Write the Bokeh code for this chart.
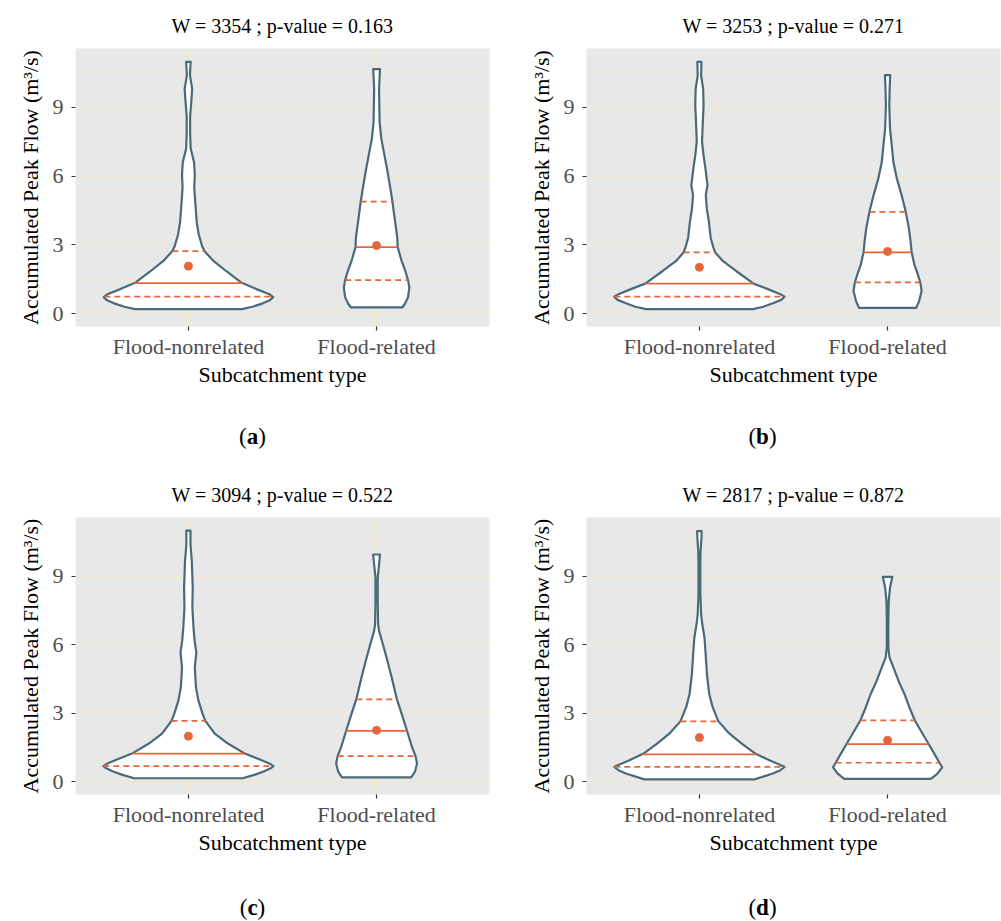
import numpy as np
from bokeh.plotting import figure
from bokeh.layouts import column, row
from bokeh.models import Range1d, FixedTicker, Div
from bokeh.embed import file_html
from bokeh.resources import INLINE

# ---------------- data ----------------
categories = ["Flood-nonrelated", "Flood-related"]
cat_pos = [1, 2]
y_ticks = [0, 3, 6, 9]
y_minor = [1.5, 4.5, 7.5, 10.5]
panel_titles = ["W = 3354 ; p-value = 0.163", "W = 3253 ; p-value = 0.271",
                "W = 3094 ; p-value = 0.522", "W = 2817 ; p-value = 0.872"]
caption_letters = ["a", "b", "c", "d"]

# violin outlines: peak-flow level (m3/s) and half-width (category units)
a_nonrel_y = [0.20, 0.30, 0.45, 0.60, 0.72, 0.85, 1.07, 1.36, 1.86, 2.30, 2.73, 2.94, 3.45, 4.00, 4.90, 5.50, 6.05, 6.60, 7.20, 7.90, 8.60, 9.20, 9.80, 10.40, 10.98]
a_nonrel_w = [0.284, 0.340, 0.395, 0.435, 0.450, 0.430, 0.362, 0.280, 0.200, 0.133, 0.085, 0.073, 0.055, 0.044, 0.036, 0.031, 0.034, 0.030, 0.012, 0.009, 0.009, 0.015, 0.020, 0.008, 0.012]
a_rel_y = [0.27, 0.42, 0.71, 1.14, 1.43, 1.86, 2.30, 2.90, 3.30, 4.03, 4.90, 5.47, 6.20, 6.90, 7.63, 8.35, 9.80, 10.66]
a_rel_w = [0.136, 0.150, 0.167, 0.174, 0.168, 0.153, 0.133, 0.112, 0.110, 0.098, 0.084, 0.073, 0.058, 0.042, 0.025, 0.016, 0.013, 0.018]

b_nonrel_y = [0.20, 0.30, 0.45, 0.60, 0.74, 0.85, 1.07, 1.31, 1.86, 2.30, 2.67, 2.87, 3.30, 4.03, 4.60, 5.18, 5.60, 6.33, 6.90, 7.49, 8.35, 9.08, 9.80, 10.37, 10.98]
b_nonrel_w = [0.284, 0.340, 0.390, 0.435, 0.452, 0.430, 0.364, 0.288, 0.195, 0.124, 0.084, 0.075, 0.060, 0.050, 0.039, 0.034, 0.043, 0.032, 0.022, 0.014, 0.018, 0.022, 0.020, 0.009, 0.011]
b_rel_y = [0.25, 0.56, 1.00, 1.36, 1.72, 2.15, 2.67, 3.16, 3.74, 4.46, 5.18, 5.90, 6.60, 7.35, 8.07, 9.08, 9.80, 10.40]
b_rel_w = [0.152, 0.168, 0.181, 0.174, 0.160, 0.142, 0.128, 0.122, 0.113, 0.096, 0.074, 0.049, 0.031, 0.022, 0.013, 0.009, 0.011, 0.014]

c_nonrel_y = [0.15, 0.30, 0.45, 0.60, 0.68, 0.80, 1.00, 1.23, 1.67, 2.10, 2.66, 2.98, 3.56, 4.14, 5.00, 5.66, 6.17, 6.75, 7.62, 8.49, 9.65, 10.38, 10.99]
c_nonrel_w = [0.288, 0.350, 0.400, 0.440, 0.452, 0.430, 0.370, 0.300, 0.210, 0.140, 0.090, 0.075, 0.053, 0.040, 0.034, 0.042, 0.033, 0.027, 0.021, 0.023, 0.018, 0.011, 0.011]
c_rel_y = [0.19, 0.44, 0.80, 1.12, 1.52, 2.22, 2.98, 3.60, 4.57, 5.30, 6.00, 6.60, 6.90, 7.76, 8.93, 9.50, 9.94]
c_rel_w = [0.184, 0.204, 0.215, 0.207, 0.188, 0.162, 0.133, 0.108, 0.080, 0.057, 0.034, 0.013, 0.008, 0.006, 0.006, 0.013, 0.018]

d_nonrel_y = [0.10, 0.36, 0.50, 0.65, 0.94, 1.23, 1.67, 2.10, 2.65, 3.27, 3.85, 4.70, 5.60, 6.30, 6.90, 7.33, 8.20, 9.65, 10.09, 10.67, 10.96]
d_nonrel_w = [0.293, 0.390, 0.430, 0.452, 0.372, 0.297, 0.225, 0.160, 0.100, 0.070, 0.052, 0.040, 0.033, 0.027, 0.015, 0.009, 0.005, 0.005, 0.006, 0.011, 0.012]
d_rel_y = [0.12, 0.35, 0.63, 0.84, 1.23, 1.64, 2.10, 2.68, 3.27, 3.85, 4.43, 5.00, 5.44, 5.88, 7.04, 7.90, 8.50, 8.96]
d_rel_w = [0.230, 0.265, 0.290, 0.275, 0.248, 0.219, 0.186, 0.145, 0.115, 0.089, 0.057, 0.031, 0.010, 0.004, 0.004, 0.006, 0.013, 0.025]

# summary statistics per panel (a, b, c, d)
q1_nonrel = [0.74, 0.74, 0.68, 0.65]
median_nonrel = [1.33, 1.31, 1.23, 1.20]
q3_nonrel = [2.73, 2.67, 2.66, 2.64]
mean_nonrel = [2.07, 2.02, 1.99, 1.93]
q1_rel = [1.46, 1.36, 1.12, 0.83]
median_rel = [2.90, 2.67, 2.22, 1.64]
q3_rel = [4.88, 4.44, 3.60, 2.68]
mean_rel = [2.97, 2.71, 2.25, 1.81]

violins = [
    ((a_nonrel_y, a_nonrel_w), (a_rel_y, a_rel_w)),
    ((b_nonrel_y, b_nonrel_w), (b_rel_y, b_rel_w)),
    ((c_nonrel_y, c_nonrel_w), (c_rel_y, c_rel_w)),
    ((d_nonrel_y, d_nonrel_w), (d_rel_y, d_rel_w)),
]

# ---------------- style ----------------
FONT = "Liberation Serif"
OUTLINE = "#4B6A79"
ORANGE = "#E4673A"
PANEL_BG = "#E8E8E8"
GRID_MAJOR = "#F3E6C4"
GRID_MINOR = "#F0E8D6"


def make_panel(i, width, height, bl, br, bt, bb):
    p = figure(width=width, height=height,
               x_range=Range1d(0.4, 2.6), y_range=Range1d(-0.56, 11.56),
               output_backend="svg", toolbar_location=None,
               min_border_left=bl, min_border_right=br,
               min_border_top=bt, min_border_bottom=bb)
    p.background_fill_color = PANEL_BG
    p.border_fill_color = "white"
    p.outline_line_color = None

    p.title.text = panel_titles[i]
    p.title.align = "center"
    p.title.text_font = FONT
    p.title.text_font_size = "20px"
    p.title.text_font_style = "normal"
    p.title.text_color = "black"
    p.title.standoff = 24

    # grids
    p.xgrid.ticker = FixedTicker(ticks=cat_pos)
    p.xgrid.grid_line_color = GRID_MAJOR
    p.xgrid.grid_line_width = 1
    p.ygrid.grid_line_color = GRID_MAJOR
    p.ygrid.grid_line_width = 1
    p.ygrid.minor_grid_line_color = GRID_MINOR
    p.ygrid.minor_grid_line_width = 0.7

    # axes
    p.xaxis.ticker = FixedTicker(ticks=cat_pos)
    p.xaxis.major_label_overrides = {cat_pos[k]: categories[k] for k in range(2)}
    p.yaxis.ticker = FixedTicker(ticks=y_ticks, minor_ticks=y_minor)
    p.xaxis.axis_label = "Subcatchment type"
    p.yaxis.axis_label = "Accumulated Peak Flow (m³/s)"
    for ax in (p.xaxis[0], p.yaxis[0]):
        ax.axis_line_color = None
        ax.major_tick_line_color = "#333333"
        ax.major_tick_line_width = 1.2
        ax.major_tick_out = 4
        ax.major_tick_in = 0
        ax.minor_tick_out = 0
        ax.minor_tick_in = 0
        ax.major_label_text_font = FONT
        ax.major_label_text_font_size = "22px"
        ax.major_label_text_color = "#4D4D4D"
        ax.axis_label_text_font = FONT
        ax.axis_label_text_font_size = "22px"
        ax.axis_label_text_font_style = "normal"
        ax.axis_label_text_color = "black"
    p.xaxis.major_label_standoff = 3
    p.xaxis.axis_label_standoff = 0
    p.yaxis.major_label_standoff = 8
    p.yaxis.axis_label_standoff = 7

    # violins
    stats = [
        (q1_nonrel[i], median_nonrel[i], q3_nonrel[i], mean_nonrel[i]),
        (q1_rel[i], median_rel[i], q3_rel[i], mean_rel[i]),
    ]
    for k in range(2):
        c = cat_pos[k]
        ys = np.asarray(violins[i][k][0], dtype=float)
        ws = np.asarray(violins[i][k][1], dtype=float)
        xs = np.concatenate([c + ws, (c - ws)[::-1]])
        yy = np.concatenate([ys, ys[::-1]])
        p.patch(xs, yy, fill_color="white", line_color=OUTLINE, line_width=2.2,
                line_join="round")
        q1, med, q3, mean = stats[k]
        for q, dash in ((q1, "6 4"), (q3, "6 4"), (med, "solid")):
            hw = float(np.interp(q, ys, ws))
            p.segment(x0=[c - hw], x1=[c + hw], y0=[q], y1=[q],
                      line_color=ORANGE, line_width=1.7, line_dash=dash)
        p.scatter(x=[c], y=[mean], size=8, color=ORANGE)
    return p


def make_caption(i, width, height, pad_left, pad_top):
    html = ('<div style="display:block; box-sizing:border-box; '
            f'width:{width}px; '
            'font-family:\'Liberation Serif\',serif; font-size:23px; '
            'line-height:26px; color:black; text-align:center; '
            f'padding-left:{pad_left}px; padding-top:{pad_top}px;">'
            f'(<b>{caption_letters[i]}</b>)</div>')
    return Div(text=html, width=width, height=height, margin=0)


pa = make_panel(0, 500, 400, 75, 11, 48, 74)
pb = make_panel(1, 501, 400, 86, 1, 48, 74)
pc = make_panel(2, 500, 400, 75, 11, 57, 66)
pd = make_panel(3, 501, 400, 86, 1, 57, 66)

ca = make_caption(0, 500, 60, 5, 24)
cb = make_caption(1, 501, 60, 24, 24)
cc = make_caption(2, 500, 61, 5, 35)
cd = make_caption(3, 501, 61, 24, 35)

layout = column(row(pa, pb), row(ca, cb), row(pc, pd), row(cc, cd))
open("out.html", "w").write(file_html(layout, INLINE))
